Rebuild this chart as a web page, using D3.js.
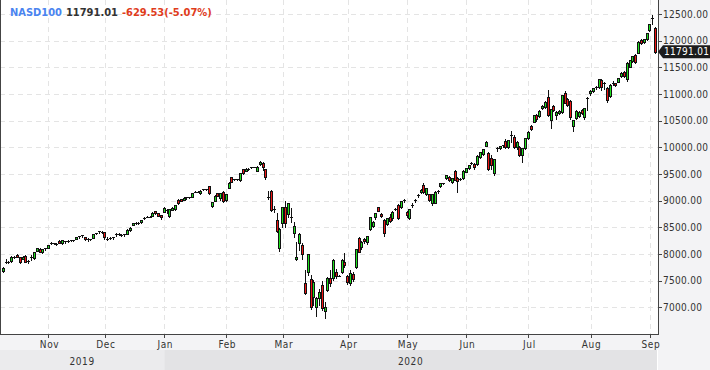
<!DOCTYPE html>
<html><head><meta charset="utf-8">
<script src="https://cdn.jsdelivr.net/npm/d3@7"></script>
<style>
html,body{margin:0;padding:0;background:#fff;}
svg{display:block;}
text{font-family:"DejaVu Sans Condensed","DejaVu Sans",sans-serif;font-stretch:condensed;}
</style></head><body>
<svg id="chart" width="710" height="370"></svg>
<script>
// ---------- DATA (day, open, high, low, close) ----------
const symbol = "NASD100";
const oct19 = [[10,7680,7765,7655,7740],[11,7848,7905,7835,7842],[14,7840,7860,7825,7846],[15,7860,7955,7850,7945],[16,7945,7962,7920,7930],[17,7980,7992,7935,7940],[18,7940,7950,7830,7856],[21,7906,7955,7900,7944],[22,7960,7975,7850,7856],[23,7860,7885,7840,7876],[24,7945,7985,7890,7953],[25,7925,8045,7915,8040],[28,8065,8110,8055,8105],[29,8095,8105,8035,8045],[30,8035,8092,8018,8085],[31,8105,8112,8070,8090]];
const nov19 = [[1,8120,8172,8115,8165],[4,8205,8222,8190,8200],[5,8200,8215,8185,8192],[6,8190,8202,8172,8196],[7,8245,8256,8205,8212],[8,8200,8266,8195,8258],[11,8235,8242,8215,8230],[12,8240,8265,8230,8250],[13,8245,8262,8235,8255],[14,8255,8266,8240,8262],[15,8290,8328,8285,8325],[18,8315,8340,8305,8335],[19,8356,8362,8320,8330],[20,8313,8320,8255,8280],[21,8290,8300,8248,8255],[22,8265,8290,8255,8275],[25,8300,8378,8298,8370],[26,8375,8395,8370,8390],[27,8405,8440,8400,8435],[29,8420,8425,8395,8405]];
const dec19 = [[2,8405,8410,8275,8315],[3,8290,8315,8262,8285],[4,8300,8320,8285,8305],[5,8310,8318,8285,8300],[6,8350,8385,8345,8380],[9,8375,8390,8360,8365],[10,8360,8372,8345,8350],[11,8355,8375,8345,8370],[12,8380,8470,8375,8455],[13,8455,8505,8440,8495],[16,8545,8580,8540,8572],[17,8578,8595,8565,8575],[18,8580,8592,8570,8585],[19,8595,8640,8590,8635],[20,8665,8685,8650,8670],[23,8690,8705,8685,8700],[24,8700,8708,8690,8698],[26,8718,8785,8715,8778],[27,8805,8812,8755,8765],[30,8762,8768,8705,8712],[31,8730,8740,8655,8690]];
const jan20 = [[2,8794,8875,8780,8869],[3,8800,8838,8770,8822],[6,8712,8850,8700,8844],[7,8828,8875,8820,8866],[8,8840,8925,8830,8919],[9,9012,9025,8945,8952],[10,9030,9040,8990,8996],[13,9012,9060,9005,9056],[14,9060,9070,9040,9058],[15,9060,9075,9050,9068],[16,9075,9140,9070,9136],[17,9165,9178,9160,9170],[20,9168,9175,9160,9165],[21,9140,9192,9130,9185],[22,9205,9225,9195,9210],[23,9210,9220,9195,9205],[24,9270,9282,9130,9140],[27,8906,8980,8890,8968],[28,8994,9100,8985,9092],[29,9138,9150,9080,9090],[30,9044,9145,9020,9136],[31,9169,9180,8975,8985]];
const feb20 = [[3,9012,9130,9000,9125],[4,9244,9345,9235,9337],[5,9438,9450,9350,9356],[6,9395,9410,9385,9400],[7,9405,9412,9380,9398],[10,9381,9520,9375,9513],[11,9588,9600,9505,9513],[12,9563,9605,9555,9600],[13,9590,9610,9580,9594],[14,9625,9640,9615,9632],[17,9632,9640,9625,9636],[18,9563,9642,9555,9636],[19,9681,9740,9675,9728],[20,9713,9720,9580,9628],[21,9588,9595,9400,9435],[24,9070,9187,9025,9078],[25,9181,9200,8815,8825],[26,8850,8900,8790,8820],[27,8637,8775,8419,8437],[28,8119,8480,8050,8469]];
const mar20 = [[2,8575,8890,8500,8875],[3,8887,9000,8512,8575],[4,8744,8960,8700,8950],[5,8700,8856,8606,8669],[6,8388,8606,8313,8525],[8,7900,8231,7880,7938],[9,8212,8388,8075,8369],[10,8169,8200,7900,7994],[11,7451,7700,7245,7263],[12,7668,8000,7600,7994],[13,7540,7600,6960,7000],[16,7200,7520,7050,7480],[17,7012,7200,6843,7169],[18,7169,7350,7050,7293],[19,7419,7500,6950,6981],[20,6937,7100,6794,7012],[23,7325,7560,7300,7544],[24,7544,7700,7400,7462],[25,7544,7900,7520,7887],[26,7668,7720,7550,7580],[27,7590,7600,7580,7588],[30,7668,7900,7650,7887],[31,7844,8013,7762,7794]];
const apr20 = [[1,7587,7600,7440,7481],[2,7451,7700,7420,7638],[3,7625,7660,7500,7525],[6,7762,8100,7740,8088],[7,8294,8320,8030,8043],[8,8137,8240,8100,8231],[9,8281,8300,8200,8235],[13,8231,8345,8190,8337],[14,8462,8700,8450,8687],[15,8525,8620,8500,8606],[16,8690,8770,8660,8762],[17,8875,8890,8800,8812],[20,8750,8770,8700,8720],[21,8637,8650,8340,8400],[22,8562,8680,8540,8669],[23,8687,8750,8600,8625],[24,8669,8800,8640,8794],[27,8840,8870,8820,8848],[28,8919,8940,8650,8670],[29,8875,9000,8860,8994],[30,9015,9040,8980,9008]];
const may20 = [[1,8794,8810,8700,8731],[4,8669,8845,8650,8838],[5,8905,8950,8890,8919],[6,8990,9030,8970,9005],[7,9080,9120,9060,9100],[8,9156,9210,9140,9200],[11,9300,9340,9138,9160],[12,9125,9240,9110,9231],[13,9119,9130,9000,9012],[14,8950,9130,8920,9125],[15,8962,9175,8950,9169],[18,9165,9200,9150,9172],[19,9275,9335,9260,9325],[20,9320,9340,9310,9328],[21,9419,9480,9400,9475],[22,9450,9460,9370,9380],[25,9356,9425,9340,9419],[26,9562,9580,9380,9388],[27,9431,9445,9170,9375],[28,9400,9420,9380,9410],[29,9419,9570,9400,9562]];
const jun20 = [[1,9544,9615,9530,9606],[2,9606,9675,9590,9669],[3,9695,9720,9680,9705],[4,9681,9700,9600,9625],[5,9681,9850,9660,9838],[8,9825,9915,9800,9906],[9,9875,9970,9860,9962],[10,10031,10120,10020,10106],[11,9900,9920,9580,9588],[12,9794,9850,9600,9669],[15,9513,9790,9480,9781],[16,9975,10000,9930,9985],[17,9981,10030,9960,10025],[18,10025,10050,10000,10044],[19,10119,10150,9990,10000],[22,10000,10140,9990,10137],[23,10225,10306,10106,10235],[24,10187,10240,9990,10000],[25,10000,10110,9970,10106],[26,10012,10030,9840,9856],[29,9856,9990,9731,9981],[30,9981,10180,9970,10169]];
const jul20 = [[1,10169,10300,10150,10294],[2,10400,10420,10320,10337],[6,10481,10615,10470,10606],[7,10606,10630,10500,10525],[8,10587,10695,10570,10687],[9,10744,10790,10720,10781],[10,10762,10865,10740,10856],[13,10950,11075,10590,10606],[14,10512,10720,10368,10712],[15,10769,10790,10680,10700],[16,10606,10680,10540,10669],[17,10638,10700,10620,10687],[20,10669,10990,10650,10981],[21,11012,11050,10830,10837],[22,10900,10920,10780,10794],[23,10875,10890,10540,10562],[24,10400,10520,10312,10512],[27,10544,10700,10530,10687],[28,10587,10680,10570,10669],[29,10700,10720,10620,10638],[30,10562,10740,10540,10731],[31,10910,10935,10700,10925]];
const aug20 = [[3,11012,11070,10990,11062],[4,11062,11110,11040,11106],[5,11110,11145,11090,11132],[6,11125,11290,11110,11281],[7,11262,11280,11080,11137],[10,11200,11230,11100,11210],[11,11106,11130,10850,10887],[12,10962,11180,10940,11169],[13,11195,11250,11170,11205],[14,11200,11215,11150,11169],[17,11231,11300,11220,11294],[18,11337,11405,11320,11400],[19,11419,11440,11320,11337],[20,11275,11595,11240,11587],[21,11512,11645,11500,11637],[24,11625,11720,11600,11712],[25,11731,11750,11590,11606],[26,11775,11990,11760,11981],[27,12012,12040,11930,11962],[28,11981,12030,11960,12025],[31,12025,12145,12010,12137]];
const sep20 = [[1,12200,12320,12180,12312],[2,12400,12480,12320,12420.54],[3,12231,12262,11760,11791.01]];

const monthKeys = ["2019-10","2019-11","2019-12","2020-01","2020-02","2020-03","2020-04","2020-05","2020-06","2020-07","2020-08","2020-09"];
const monthRows = [oct19,nov19,dec19,jan20,feb20,mar20,apr20,may20,jun20,jul20,aug20,sep20];
const monthLabels = ["Oct","Nov","Dec","Jan","Feb","Mar","Apr","May","Jun","Jul","Aug","Sep"];
const yearLabels = ["2019","2020"];
const priceTicks = [7000,7500,8000,8500,9000,9500,10000,10500,11000,11500,12000,12500];

// ---------- BUILD ----------
const bars = [];
monthRows.forEach((rows, m) => rows.forEach(r => bars.push({
  month: m, key: monthKeys[m], day: r[0], o: r[1], h: r[2], l: r[3], c: r[4]
})));

const fmt = d3.formatLocale({decimal: ".", thousands: "", grouping: [3], currency: ["", ""], minus: "-"}).format(".2f");

const W = 710, H = 370;
const plotR = 658, plotB = 334;
const svg = d3.select("#chart");

const x = d3.scaleBand().domain(d3.range(bars.length)).range([1.9, 656.9]).paddingInner(0);
const cx = i => x(i) + x.bandwidth() / 2;
const y = d3.scaleLinear().domain([6500, 12762.5]).range([plotB, 0]);

// backgrounds
svg.append("rect").attr("x",0).attr("y",0).attr("width",W).attr("height",H).attr("fill","#ffffff");
svg.append("rect").attr("x",plotR).attr("y",0).attr("width",W-plotR).attr("height",H).attr("fill","#f3f3f5");
svg.append("rect").attr("x",0).attr("y",plotB).attr("width",plotR).attr("height",16).attr("fill","#f3f3f5");

// month ticks = first bar of each month (except first)
const monthStarts = [];
bars.forEach((b, i) => { if (i > 0 && b.month !== bars[i-1].month) monthStarts.push({i, label: monthLabels[b.month], year: b.key.slice(0,4)}); });
const yearStartX = cx(monthStarts.find(t => t.year === "2020").i);

// year band
svg.append("rect").attr("x",0).attr("y",350).attr("width",yearStartX).attr("height",20).attr("fill","#ebebed");
svg.append("rect").attr("x",yearStartX).attr("y",350).attr("width",657-yearStartX).attr("height",20).attr("fill","#e3e3e5");
svg.selectAll("text.year").data(yearLabels).join("text").attr("class","year")
  .attr("x",(d,k) => k === 0 ? yearStartX/2 : (yearStartX+657)/2).attr("y",365)
  .attr("text-anchor","middle").attr("font-size","10px").attr("fill","#333").attr("letter-spacing","0.6px").text(d => d);

// grid
const px = v => Math.round(v) + 0.5;
svg.append("g").selectAll("line").data(priceTicks).join("line")
  .attr("x1",0).attr("x2",plotR).attr("y1",d => px(y(d))).attr("y2",d => px(y(d)))
  .attr("stroke","#e4e4e4").attr("stroke-dasharray","5,4");
svg.append("g").selectAll("line").data(monthStarts).join("line")
  .attr("x1",d => px(cx(d.i))).attr("x2",d => px(cx(d.i))).attr("y1",0).attr("y2",plotB)
  .attr("stroke","#e4e4e4").attr("stroke-dasharray","5,4");

// candles
const up = "#1ee01e", down = "#ee1515";
const cg = svg.append("g").attr("shape-rendering","crispEdges");
bars.forEach((b, i) => {
  const c = Math.floor(cx(i));
  const yh = Math.round(y(b.h)), yl = Math.round(y(b.l));
  const top = Math.round(y(Math.max(b.o, b.c))), bot = Math.round(y(Math.min(b.o, b.c)));
  cg.append("line").attr("x1",c+0.5).attr("x2",c+0.5).attr("y1",yh).attr("y2",yl+1).attr("stroke","#111");
  if (bot - top < 2) {
    cg.append("rect").attr("x",c-1).attr("y",top).attr("width",3).attr("height",Math.max(1,bot-top)).attr("fill","#111");
  } else {
    cg.append("rect").attr("x",c-0.5).attr("y",top+0.5).attr("width",2).attr("height",bot-top)
      .attr("fill", b.c >= b.o ? up : down).attr("stroke","#111").attr("stroke-width",1);
  }
});

// axes lines
svg.append("line").attr("x1",0.5).attr("x2",0.5).attr("y1",0).attr("y2",plotB).attr("stroke","#444");
svg.append("line").attr("x1",0).attr("x2",plotR+0.5).attr("y1",plotB+0.5).attr("y2",plotB+0.5).attr("stroke","#444");
svg.append("line").attr("x1",plotR+0.5).attr("x2",plotR+0.5).attr("y1",0).attr("y2",plotB+1).attr("stroke","#444");

// right axis
const ya = svg.append("g");
ya.selectAll("line").data(priceTicks).join("line")
  .attr("x1",plotR).attr("x2",plotR+4).attr("y1",d => px(y(d))).attr("y2",d => px(y(d))).attr("stroke","#444");
ya.selectAll("text").data(priceTicks).join("text")
  .attr("x",plotR+5).attr("y",d => y(d)).attr("dy","0.36em")
  .attr("font-size","10px").attr("fill","#333").attr("letter-spacing","0.3px").text(d => fmt(d));

// bottom axis
const xa = svg.append("g");
xa.selectAll("line").data(monthStarts).join("line")
  .attr("x1",d => px(cx(d.i))).attr("x2",d => px(cx(d.i))).attr("y1",plotB).attr("y2",plotB+4).attr("stroke","#444");
xa.selectAll("text").data(monthStarts).join("text")
  .attr("x",d => cx(d.i)+1).attr("y",348)
  .attr("text-anchor","middle").attr("font-size","10px").attr("fill","#333").attr("letter-spacing","0.6px").text(d => d.label);

// last price marker
const last = bars[bars.length-1], prev = bars[bars.length-2];
const ly = y(last.c);
svg.append("path").attr("d",`M${plotR},${ly} L${plotR+5},${ly-6.5} L${W},${ly-6.5} L${W},${ly+6.5} L${plotR+5},${ly+6.5} Z`).attr("fill","#1c1c1c");
svg.append("text").attr("x",plotR+6).attr("y",ly).attr("dy","0.36em").attr("font-size","10px").attr("fill","#fff")
  .attr("letter-spacing","0.3px").text(fmt(last.c));

// legend
const chg = last.c - prev.c, pct = chg / prev.c * 100;
const lg = svg.append("text").attr("x",10).attr("y",15.5).attr("font-size","11px").attr("font-weight","bold");
lg.append("tspan").attr("fill","#4a84f0").text(symbol);
lg.append("tspan").attr("fill","#333").attr("dx",4).text(fmt(last.c));
lg.append("tspan").attr("fill","#e03c1c").attr("dx",4).text(`${fmt(chg)}(${fmt(pct)}%)`);
</script>
</body></html>
